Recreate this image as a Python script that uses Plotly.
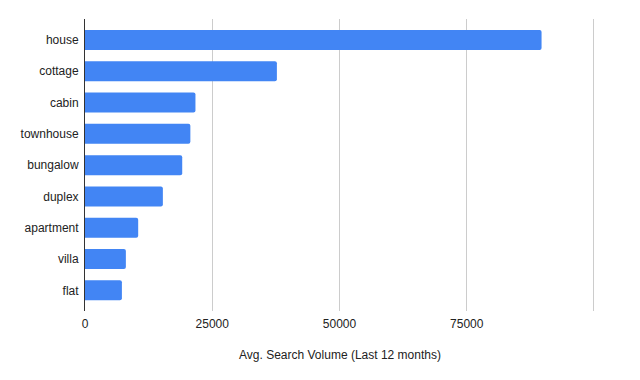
import plotly.graph_objects as go

categories = ["house", "cottage", "cabin", "townhouse", "bungalow", "duplex", "apartment", "villa", "flat"]
values = [89700, 37700, 21700, 20700, 19100, 15300, 10450, 8030, 7250]
tick_vals = [0, 25000, 50000, 75000, 100000]
tick_text = ["0", "25000", "50000", "75000", ""]
x_title = "Avg. Search Volume (Last 12 months)"

fig = go.Figure(go.Bar(
    x=values, y=categories, orientation="h",
    marker=dict(color="#4285F4", line=dict(width=0), cornerradius=2),
    width=0.64,
))

# page body has an 8px margin, so the figure is sized/offset to compensate
fig.update_layout(
    width=632, height=372,
    margin=dict(l=77, r=45, t=11, b=69),
    plot_bgcolor="white", paper_bgcolor="white",
    font=dict(family="Liberation Sans, Arial, sans-serif", size=12, color="#222222"),
    showlegend=False,
)
fig.update_xaxes(
    range=[0, 100200], tickvals=tick_vals, ticktext=tick_text,
    showgrid=True, gridcolor="#cccccc", gridwidth=1, zeroline=False,
    ticks="", ticklabelstandoff=4, automargin=False,
    title=dict(text=x_title, font=dict(size=12, color="#222222"), standoff=20),
)
fig.update_yaxes(
    categoryorder="array", categoryarray=categories,
    autorange=False, range=[8.66, -0.67],
    showline=True, linecolor="#333333", linewidth=1,
    ticks="", ticklabelstandoff=3, showgrid=False, automargin=False,
)

fig.write_html("out.html")
